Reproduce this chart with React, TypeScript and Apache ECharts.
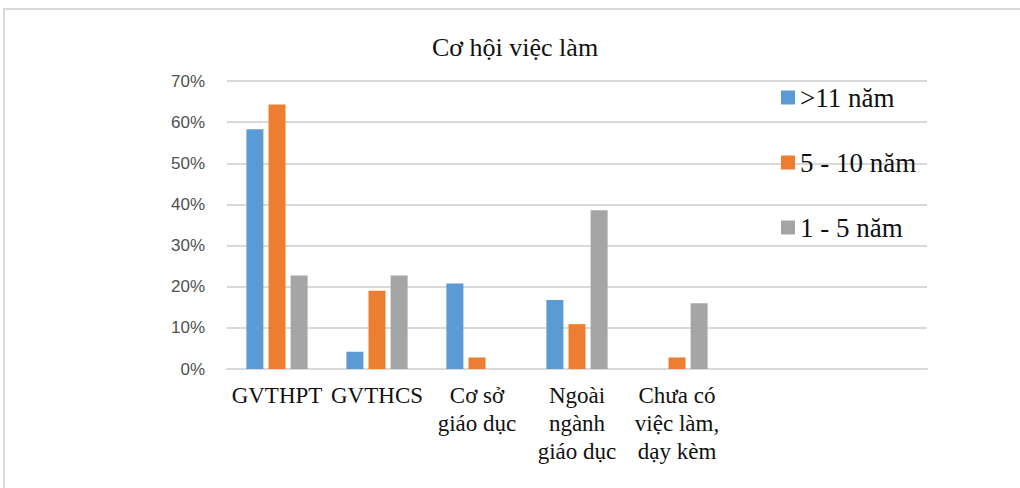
import React, { useEffect, useRef } from "react";
import * as echarts from "echarts";

const categories = [
  "GVTHPT",
  "GVTHCS",
  "Cơ sở\ngiáo dục",
  "Ngoài\nngành\ngiáo dục",
  "Chưa có\nviệc làm,\ndạy kèm",
  "",
  "",
];
const seriesNames = [">11 năm", "5 - 10 năm", "1 - 5 năm"];
const over11 = [58.3, 4.2, 20.8, 16.8, null, null, null];
const y5to10 = [64.3, 19.0, 2.8, 10.9, 2.8, null, null];
const y1to5 = [22.7, 22.7, null, 38.6, 16.0, null, null];
const colors = ["#5B9BD5", "#ED7D31", "#A5A5A5"];
const yTicks = { min: 0, max: 70, interval: 10 };

export default function App() {
  const ref = useRef<HTMLDivElement>(null);
  useEffect(() => {
    if (!ref.current) return;
    const chart = echarts.init(ref.current, null, { renderer: "svg" });
    const serif = "'Liberation Serif', 'Times New Roman', serif";
    const data = [over11, y5to10, y1to5];
    chart.setOption({
      animation: false,
      backgroundColor: "#ffffff",
      title: {
        text: "Cơ hội việc làm",
        left: 432,
        top: 34,
        padding: 0,
        textStyle: { fontFamily: serif, fontSize: 26, fontWeight: "normal", color: "#111" },
      },
      legend: {
        orient: "vertical",
        left: 781,
        top: 84,
        padding: 0,
        icon: "rect",
        itemWidth: 14,
        itemHeight: 14,
        itemGap: 38,
        data: seriesNames,
        textStyle: { fontFamily: serif, fontSize: 27, color: "#111", lineHeight: 26 },
      },
      graphic: [
        {
          type: "rect",
          shape: { x: 4, y: 9, width: 1100, height: 600 },
          style: { fill: "none", stroke: "#d9d9d9", lineWidth: 2 },
          silent: true,
        },
      ],
      grid: { left: 227, right: 93, top: 81, bottom: 119 },
      xAxis: {
        type: "category",
        data: categories,
        axisLine: { show: true, lineStyle: { color: "#d9d9d9", width: 2 } },
        axisTick: { show: false },
        axisLabel: {
          interval: 0,
          margin: 12,
          fontFamily: serif,
          fontSize: 23,
          lineHeight: 28,
          color: "#111",
        },
      },
      yAxis: {
        type: "value",
        min: yTicks.min,
        max: yTicks.max,
        interval: yTicks.interval,
        axisLine: { show: false },
        axisTick: { show: false },
        splitLine: { lineStyle: { color: "#d9d9d9", width: 2 } },
        axisLabel: {
          formatter: "{value}%",
          margin: 22,
          fontFamily: "'Liberation Sans', Arial, sans-serif",
          fontSize: 17,
          color: "#505050",
        },
      },
      series: seriesNames.map((name, i) => ({
        name,
        type: "bar",
        data: data[i],
        barWidth: 17,
        barGap: "30%",
        itemStyle: { color: colors[i] },
      })),
    });
    return () => chart.dispose();
  }, []);
  return (
    <div
      ref={ref}
      style={{ position: "fixed", left: 0, top: 0, width: 1020, height: 488, background: "#fff" }}
    />
  );
}
